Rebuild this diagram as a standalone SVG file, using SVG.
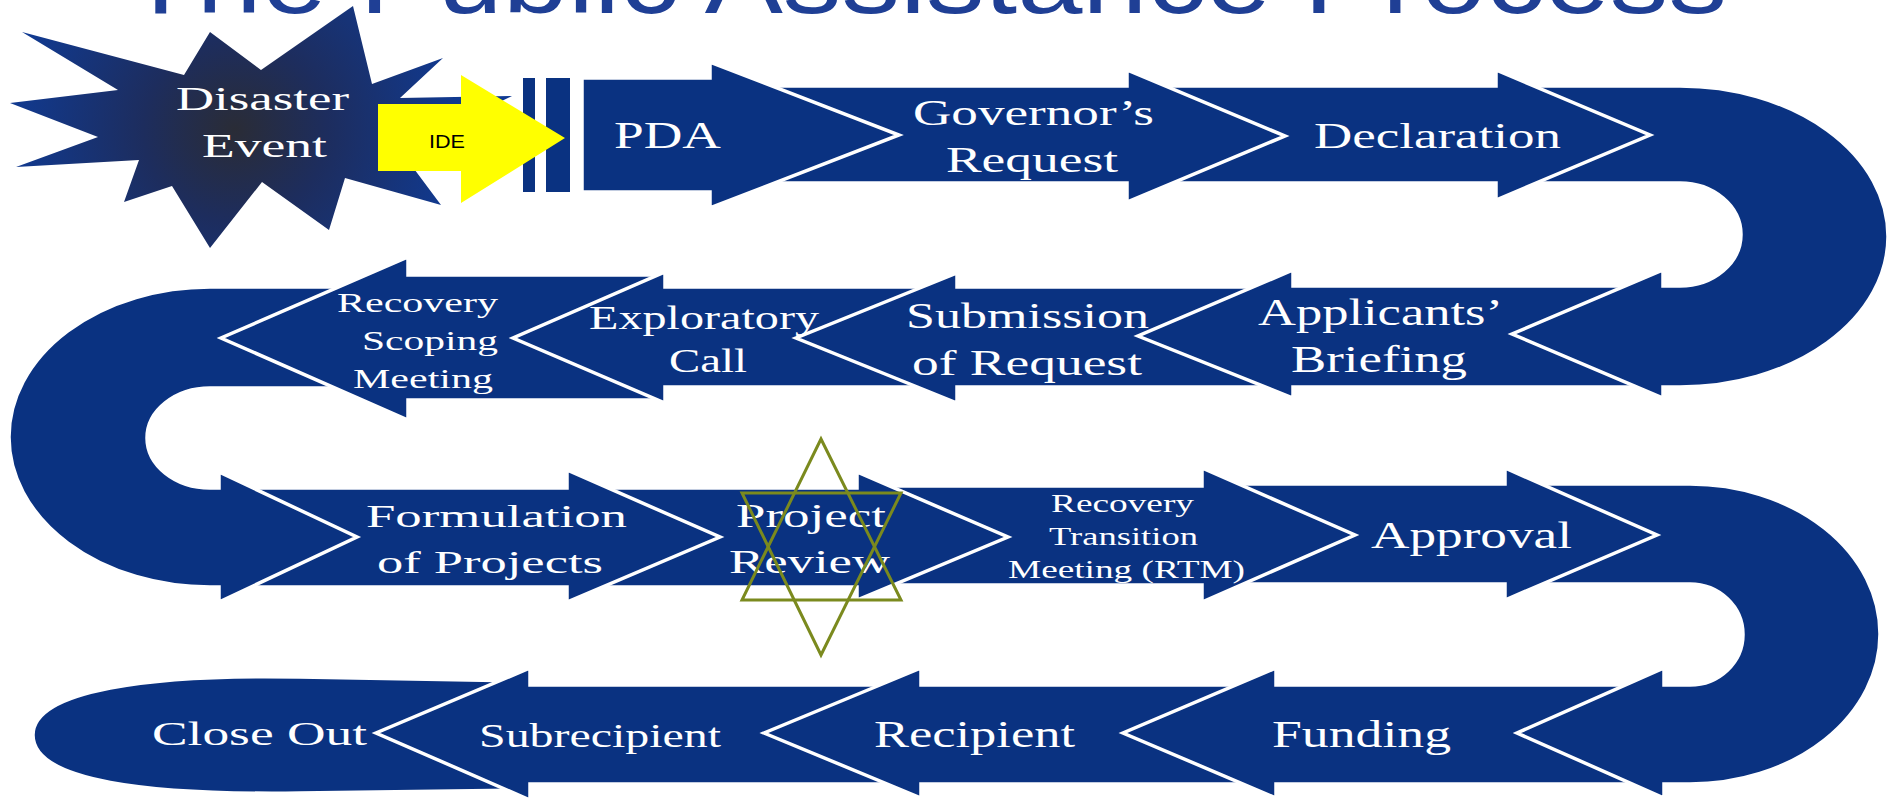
<svg xmlns="http://www.w3.org/2000/svg" width="1898" height="801" viewBox="0 0 1898 801">
<defs>
<style>
.nav{fill:#0a3281;stroke:#fff;stroke-width:3.5;stroke-linejoin:miter}
.lbl{font-family:'Liberation Serif','Times New Roman',serif;fill:#fff}
.ttl{font-family:'Liberation Sans',Arial,sans-serif;fill:#1f3f95}
.hex{fill:none;stroke:#7b8a1e;stroke-width:3;stroke-linejoin:miter}
</style>
<radialGradient id="starGrad" gradientUnits="userSpaceOnUse" cx="235" cy="130" r="230">
<stop offset="0" stop-color="#2a2c36"/>
<stop offset="0.4" stop-color="#1d2d5e"/>
<stop offset="1" stop-color="#103a92"/>
</radialGradient>
</defs>
<rect width="1898" height="801" fill="#fff"/>
<text class="ttl" x="125" y="13" font-size="100" textLength="1602" lengthAdjust="spacingAndGlyphs">The Public Assistance Process</text>

<g id="close-out">
<path class="nav" d="M522 681 L300 677 C150 674 33 690 33 735 C33 782 150 795 300 793 L522 790 Z"/>
<text class="lbl" x="152" y="745" font-size="33" textLength="215" lengthAdjust="spacingAndGlyphs">Close Out</text>
</g>
<g id="subrecipient">
<polygon class="nav" points="928,685 530,685 530,668 376,733 530,800 530,784 928,784"/>
<text class="lbl" x="479" y="747" font-size="33" textLength="242" lengthAdjust="spacingAndGlyphs">Subrecipient</text>
</g>
<g id="recipient">
<polygon class="nav" points="1283,685 921,685 921,668 764,733 921,798 921,784 1283,784"/>
<text class="lbl" x="874" y="747" font-size="37" textLength="201" lengthAdjust="spacingAndGlyphs">Recipient</text>
</g>
<g id="funding">
<polygon class="nav" points="1672,685 1276,685 1276,668 1123,733 1276,798 1276,784 1672,784"/>
<text class="lbl" x="1272" y="747" font-size="37" textLength="179" lengthAdjust="spacingAndGlyphs">Funding</text>
</g>
<g id="turn-lower-right">
<path class="nav" d="M1510 484 L1690 484 A190 150 0 0 1 1690 784 L1664 784 L1664 798 L1517 733 L1664 668 L1664 685 L1690 685 A53 50.5 0 0 0 1690 584 L1510 584 Z"/>
</g>
<g id="approval">
<polygon class="nav" points="1210,484 1505,484 1505,468 1657,535 1505,600 1505,584 1210,584"/>
<text class="lbl" x="1371" y="548" font-size="38" textLength="201" lengthAdjust="spacingAndGlyphs">Approval</text>
</g>
<g id="rtm">
<polygon class="nav" points="865,486 1202,486 1202,468 1355,535 1202,602 1202,585 865,585"/>
<text class="lbl" x="1051" y="512" font-size="25" textLength="143" lengthAdjust="spacingAndGlyphs">Recovery</text>
<text class="lbl" x="1049" y="545" font-size="25" textLength="149" lengthAdjust="spacingAndGlyphs">Transition</text>
<text class="lbl" x="1008" y="578" font-size="25" textLength="237" lengthAdjust="spacingAndGlyphs">Meeting (RTM)</text>
</g>
<g id="project-review">
<polygon class="nav" points="575,488 857,488 857,472 1008,537 857,600 857,587 575,587"/>
<text class="lbl" x="736" y="527" font-size="34" textLength="150" lengthAdjust="spacingAndGlyphs">Project</text>
<text class="lbl" x="729" y="573" font-size="34" textLength="161" lengthAdjust="spacingAndGlyphs">Review</text>
</g>
<g id="formulation">
<polygon class="nav" points="225,488 567,488 567,470 720,537 567,602 567,587 225,587"/>
<text class="lbl" x="366" y="527" font-size="31" textLength="261" lengthAdjust="spacingAndGlyphs">Formulation</text>
<text class="lbl" x="377" y="573" font-size="31" textLength="226" lengthAdjust="spacingAndGlyphs">of Projects</text>
</g>
<g id="turn-left">
<path class="nav" d="M420 287 L210 287 A201 150 0 0 0 210 587 L219 587 L219 602 L357 537 L219 472 L219 488 L210 488 A63 50 0 0 1 210 388 L420 388 Z"/>
</g>
<g id="recovery-scoping">
<polygon class="nav" points="665,275 408,275 408,257 221,338 408,420 408,400 665,400"/>
<text class="lbl" x="337" y="312" font-size="28" textLength="161" lengthAdjust="spacingAndGlyphs">Recovery</text>
<text class="lbl" x="362" y="350" font-size="28" textLength="136" lengthAdjust="spacingAndGlyphs">Scoping</text>
<text class="lbl" x="353" y="388" font-size="28" textLength="140" lengthAdjust="spacingAndGlyphs">Meeting</text>
</g>
<g id="exploratory-call">
<polygon class="nav" points="965,287 665,287 665,272 513,338 665,403 665,387 965,387"/>
<text class="lbl" x="589" y="329" font-size="33" textLength="230" lengthAdjust="spacingAndGlyphs">Exploratory</text>
<text class="lbl" x="669" y="372" font-size="33" textLength="78" lengthAdjust="spacingAndGlyphs">Call</text>
</g>
<g id="submission">
<polygon class="nav" points="1300,287 957,287 957,273 796,338 957,403 957,387 1300,387"/>
<text class="lbl" x="906" y="328" font-size="35" textLength="243" lengthAdjust="spacingAndGlyphs">Submission</text>
<text class="lbl" x="912" y="375" font-size="35" textLength="230" lengthAdjust="spacingAndGlyphs">of Request</text>
</g>
<g id="applicants-briefing">
<polygon class="nav" points="1670,286 1293,286 1293,270 1138,336 1293,398 1293,387 1670,387"/>
<text class="lbl" x="1258" y="325" font-size="37" textLength="245" lengthAdjust="spacingAndGlyphs">Applicants’</text>
<text class="lbl" x="1291" y="372" font-size="37" textLength="176" lengthAdjust="spacingAndGlyphs">Briefing</text>
</g>
<g id="turn-upper-right">
<path class="nav" d="M1500 86 L1680 86 A208 150.5 0 0 1 1680 387 L1663 387 L1663 398 L1512 334 L1663 270 L1663 286 L1680 286 A61 51.5 0 0 0 1680 183 L1500 183 Z"/>
</g>
<g id="declaration">
<polygon class="nav" points="1140,86 1496,86 1496,70 1650,135 1496,200 1496,183 1140,183"/>
<text class="lbl" x="1314" y="148" font-size="35" textLength="247" lengthAdjust="spacingAndGlyphs">Declaration</text>
</g>
<g id="governors-request">
<polygon class="nav" points="720,86 1127,86 1127,70 1285,136 1127,202 1127,183 720,183"/>
<text class="lbl" x="913" y="125" font-size="35" textLength="241" lengthAdjust="spacingAndGlyphs">Governor’s</text>
<text class="lbl" x="946" y="172" font-size="35" textLength="172" lengthAdjust="spacingAndGlyphs">Request</text>
</g>
<g id="pda">
<rect x="523" y="78" width="12" height="114" fill="#0a3281"/>
<rect x="546" y="78" width="24" height="114" fill="#0a3281"/>
<polygon class="nav" points="582,78 710,78 710,62 899,135 710,208 710,192 582,192"/>
<text class="lbl" x="614" y="148" font-size="38" textLength="107" lengthAdjust="spacingAndGlyphs">PDA</text>
</g>
<g id="disaster-event">
<polygon fill="url(#starGrad)" points="22,32 184,75 210,32 261,70 353,6 372,84 443,58 400,98 512,96 400,150 441,205 345,178 329,230 262,182 210,248 172,186 124,202 139,160 16,167 98,137 10,103 118,90"/>
<text class="lbl" x="176" y="110" font-size="34" textLength="173" lengthAdjust="spacingAndGlyphs">Disaster</text>
<text class="lbl" x="202" y="157" font-size="34" textLength="125" lengthAdjust="spacingAndGlyphs">Event</text>
</g>
<g id="review-marker">
<polygon class="hex" points="821,439 742,600 901,600"/>
<polygon class="hex" points="742,493 901,493 821,655"/>
</g>
<g id="connectors">
<polygon fill="#ffff00" points="378,104 461,104 461,75 565,138 461,203 461,171 378,171"/>
<text x="429" y="148" font-family="'Liberation Sans',Arial,sans-serif" font-size="18" fill="#000" textLength="36" lengthAdjust="spacingAndGlyphs">IDE</text>
</g>
</svg>
